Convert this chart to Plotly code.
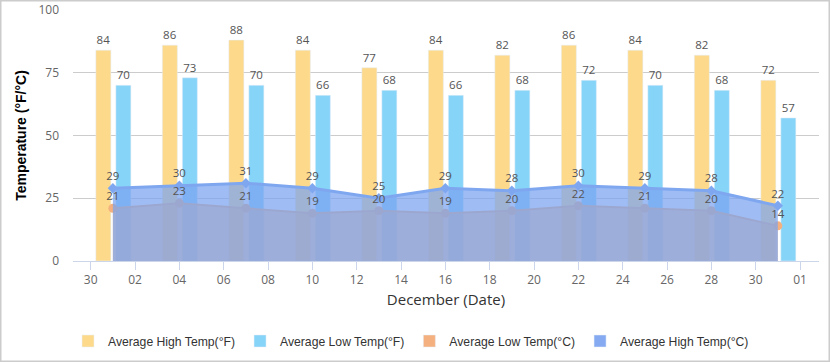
import plotly.graph_objects as go

# ---- data ----
dates = ["2023-12-01", "2023-12-04", "2023-12-07", "2023-12-10", "2023-12-13", "2023-12-16",
         "2023-12-19", "2023-12-22", "2023-12-25", "2023-12-28", "2023-12-31"]
high_f = [84, 86, 88, 84, 77, 84, 82, 86, 84, 82, 72]
low_f = [70, 73, 70, 66, 68, 66, 68, 72, 70, 68, 57]
low_c = [21, 23, 21, 19, 20, 19, 20, 22, 21, 20, 14]
high_c = [29, 30, 31, 29, 25, 29, 28, 30, 29, 28, 22]

name_hf = "Average High Temp(°F)"
name_lf = "Average Low Temp(°F)"
name_lc = "Average Low Temp(°C)"
name_hc = "Average High Temp(°C)"

# ---- styles ----
C_HF = "#FDDA8B"
C_LF = "#87D4F9"
C_LC = "#F4B07E"
C_HC = "#7FA7F0"
DAY = 86400000
BAR_W = 0.677 * DAY
LABEL_FONT = dict(family="Open Sans", size=11.5, color="#555555")

fig = go.Figure()
fig.add_trace(go.Bar(x=dates, y=high_f, name=name_hf, marker_color=C_HF,
                     width=BAR_W, offset=-0.767 * DAY,
                     text=high_f, textposition="outside", textfont=LABEL_FONT,
                     cliponaxis=False))
fig.add_trace(go.Bar(x=dates, y=low_f, name=name_lf, marker_color=C_LF,
                     width=BAR_W, offset=0.135 * DAY,
                     text=low_f, textposition="outside", textfont=LABEL_FONT,
                     cliponaxis=False))
# legend-only proxies for the area series (square legend symbols)
fig.add_trace(go.Bar(x=[None], y=[None], name=name_lc, marker_color=C_LC))
fig.add_trace(go.Bar(x=[None], y=[None], name=name_hc, marker_color="#86AAF1"))

fig.add_trace(go.Scatter(x=dates, y=low_c, name=name_lc, showlegend=False,
                         mode="lines+markers", fill="tozeroy",
                         fillcolor="rgba(244,176,126,0.7)",
                         line=dict(color=C_LC, width=2),
                         marker=dict(color=C_LC, size=9)))
fig.add_trace(go.Scatter(x=dates, y=high_c, name=name_hc, showlegend=False,
                         mode="lines+markers", fill="tozeroy",
                         fillcolor="rgba(122,164,240,0.72)",
                         line=dict(color=C_HC, width=3),
                         marker=dict(color=C_HC, size=8, symbol="diamond")))
# value labels on top of everything
for vals in (low_c, high_c):
    fig.add_trace(go.Scatter(x=dates, y=vals, mode="markers+text", showlegend=False,
                             text=vals, textposition="top center", textfont=LABEL_FONT,
                             marker=dict(size=7, color="rgba(0,0,0,0)"),
                             hoverinfo="skip", cliponaxis=False))

L, T, W, H = 73, 10, 746, 251


def px_x(p):
    return (p - L) / W


def px_y(p):
    return (T + H - p) / H


fig.update_layout(
    width=830, height=362,
    margin=dict(l=L, r=830 - L - W, t=T, b=362 - T - H, autoexpand=False),
    paper_bgcolor="white", plot_bgcolor="white",
    font=dict(family="Open Sans", size=12, color="#666666"),
    barmode="overlay",
    showlegend=True,
    legend=dict(orientation="h", x=px_x(68), xanchor="left", y=px_y(341), yanchor="middle",
                font=dict(family="Liberation Sans, Arial", size=12.2, color="#333333"),
                traceorder="normal", itemclick=False),
    xaxis=dict(type="date", range=["2023-11-29 04:50", "2024-01-01 20:34"],
               tick0="2023-11-30", dtick=2 * DAY, tickformat="%d",
               ticks="outside", ticklen=8, tickcolor="#CCD6EB",
               showline=True, linecolor="#CCD6EB", linewidth=1,
               showgrid=False, zeroline=False, automargin=False,
               tickfont=dict(size=12, color="#666666"),
               title=dict(text="December (Date)", standoff=7,
                          font=dict(family="Open Sans", size=15, color="#333333"))),
    yaxis=dict(range=[0, 100], dtick=25, showgrid=True, gridcolor="#CCCCCC",
               showline=False, zeroline=False, ticks="", ticklabelstandoff=13,
               automargin=False,
               tickfont=dict(size=12, color="#666666"),
               title=dict(text="<b>Temperature (°F/°C)</b>", standoff=8,
                          font=dict(family="Liberation Sans, Arial", size=14, color="#000000"))),
    shapes=[dict(type="rect", xref="paper", yref="paper",
                 x0=px_x(0.5), x1=px_x(829.5), y0=px_y(361.5), y1=px_y(0.5),
                 line=dict(color="#CCCCCC", width=2), fillcolor="rgba(0,0,0,0)", layer="below")],
)

fig.write_html("out.html", config={"displayModeBar": False},
               post_script="document.body.style.margin='0';document.body.style.overflow='hidden';")
